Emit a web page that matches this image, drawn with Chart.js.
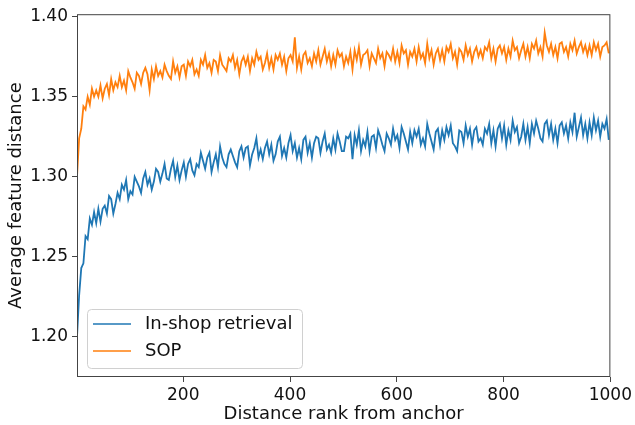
<!DOCTYPE html>
<html>
<head>
<meta charset="utf-8">
<script src="https://cdn.jsdelivr.net/npm/chart.js@4/dist/chart.umd.min.js"></script>
<style>
  html, body { margin: 0; padding: 0; background: #fff; }
  #wrap { width: 635px; height: 425px; }
</style>
</head>
<body>
<div id="wrap"><canvas id="lineChart" width="635" height="425"></canvas></div>
<script>
// ranks sampled every 4 from 1 to 997
var ranks = [];
for (var r = 1; r <= 1000; r += 4) ranks.push(r);

var xTicks = [200, 400, 600, 800, 1000];
var yTicks = [1.20, 1.25, 1.30, 1.35, 1.40];

var inshop = [
  1.200,1.226,1.243,1.246,1.263,1.261,1.274,1.270,1.278,1.271,
  1.280,1.272,1.280,1.282,1.277,1.288,1.286,1.277,1.283,1.290,
  1.286,1.295,1.292,1.298,1.286,1.291,1.289,1.300,1.297,1.294,
  1.290,1.299,1.303,1.295,1.299,1.292,1.297,1.305,1.303,1.297,
  1.302,1.308,1.299,1.298,1.305,1.310,1.300,1.307,1.298,1.304,
  1.309,1.300,1.308,1.311,1.304,1.301,1.308,1.306,1.315,1.310,
  1.305,1.312,1.315,1.303,1.309,1.314,1.306,1.319,1.312,1.308,
  1.306,1.314,1.317,1.313,1.309,1.306,1.316,1.319,1.312,1.318,
  1.319,1.307,1.314,1.318,1.324,1.312,1.317,1.311,1.318,1.322,
  1.314,1.320,1.310,1.314,1.322,1.325,1.313,1.318,1.312,1.321,
  1.326,1.316,1.321,1.312,1.318,1.311,1.323,1.325,1.315,1.321,
  1.312,1.321,1.325,1.324,1.315,1.322,1.327,1.317,1.320,1.315,
  1.324,1.317,1.327,1.322,1.316,1.316,1.325,1.324,1.327,1.311,
  1.326,1.320,1.329,1.316,1.323,1.319,1.328,1.316,1.325,1.326,
  1.318,1.329,1.325,1.320,1.316,1.327,1.324,1.320,1.330,1.323,
  1.326,1.318,1.331,1.327,1.322,1.317,1.328,1.321,1.329,1.325,
  1.330,1.320,1.324,1.319,1.333,1.327,1.322,1.317,1.328,1.330,
  1.320,1.329,1.323,1.331,1.326,1.332,1.321,1.319,1.316,1.329,
  1.328,1.321,1.332,1.325,1.330,1.320,1.329,1.331,1.322,1.324,
  1.320,1.330,1.327,1.333,1.321,1.329,1.319,1.330,1.333,1.324,
  1.332,1.320,1.329,1.323,1.335,1.328,1.331,1.321,1.325,1.333,
  1.323,1.331,1.321,1.333,1.327,1.335,1.330,1.324,1.322,1.333,
  1.335,1.326,1.333,1.323,1.330,1.321,1.332,1.334,1.327,1.332,
  1.324,1.334,1.328,1.340,1.325,1.331,1.337,1.326,1.333,1.324,
  1.334,1.326,1.337,1.329,1.335,1.325,1.333,1.330,1.336,1.323
];

var sop = [
  1.300,1.324,1.330,1.344,1.342,1.350,1.345,1.355,1.350,1.354,
  1.350,1.357,1.349,1.355,1.358,1.351,1.361,1.354,1.359,1.356,
  1.363,1.356,1.360,1.354,1.366,1.362,1.359,1.355,1.365,1.363,
  1.358,1.365,1.368,1.364,1.354,1.367,1.361,1.369,1.363,1.366,
  1.362,1.370,1.366,1.363,1.361,1.372,1.365,1.369,1.362,1.369,
  1.370,1.363,1.372,1.369,1.373,1.364,1.367,1.363,1.373,1.370,
  1.376,1.368,1.371,1.365,1.373,1.372,1.366,1.376,1.370,1.368,
  1.366,1.374,1.372,1.376,1.368,1.373,1.364,1.372,1.375,1.370,
  1.375,1.366,1.374,1.370,1.378,1.373,1.375,1.367,1.371,1.377,
  1.368,1.374,1.367,1.376,1.373,1.377,1.370,1.375,1.366,1.374,
  1.376,1.372,1.387,1.368,1.375,1.367,1.376,1.378,1.371,1.374,
  1.369,1.377,1.372,1.379,1.370,1.375,1.380,1.372,1.377,1.369,
  1.376,1.370,1.379,1.375,1.377,1.369,1.375,1.371,1.378,1.367,
  1.379,1.373,1.381,1.370,1.376,1.377,1.379,1.369,1.377,1.374,
  1.371,1.380,1.374,1.377,1.369,1.378,1.376,1.373,1.380,1.372,
  1.378,1.371,1.382,1.377,1.379,1.370,1.378,1.375,1.380,1.372,
  1.381,1.374,1.377,1.371,1.383,1.374,1.379,1.370,1.377,1.380,
  1.373,1.379,1.372,1.381,1.378,1.383,1.374,1.378,1.370,1.380,
  1.378,1.373,1.382,1.376,1.380,1.372,1.378,1.381,1.375,1.379,
  1.374,1.381,1.379,1.384,1.374,1.380,1.372,1.380,1.382,1.377,
  1.381,1.373,1.380,1.375,1.385,1.379,1.381,1.374,1.379,1.383,
  1.375,1.381,1.374,1.383,1.380,1.385,1.377,1.381,1.375,1.390,
  1.382,1.378,1.383,1.376,1.381,1.374,1.383,1.384,1.378,1.381,
  1.375,1.383,1.379,1.385,1.377,1.381,1.384,1.378,1.382,1.376,
  1.382,1.376,1.384,1.379,1.383,1.375,1.381,1.382,1.384,1.377
];

var seriesNames = ["In-shop retrieval", "SOP"];
var seriesColors = ["#1f77b4", "#ff7f0e"];

var FONT = "'DejaVu Sans', sans-serif";

function toPoints(ys) {
    return ys.map(function (y, i) { return { x: ranks[i], y: y }; });
}

// frame round the plot + legend box in the lower left
var framePlugin = {
    id: 'frame',
    afterDraw: function (chart) {
        var ctx = chart.ctx, a = chart.chartArea;
        ctx.save();
        ctx.strokeStyle = '#444';
        ctx.lineWidth = 1;
        ctx.strokeRect(a.left + 0.5, a.top + 0.5, a.right - a.left - 1, a.bottom - a.top - 1);

        // legend
        var bx = a.left + 10, by = 309, bw = 215, bh = 59;
        ctx.fillStyle = 'rgba(255,255,255,0.8)';
        ctx.strokeStyle = '#d0d0d0';
        ctx.beginPath();
        ctx.roundRect(bx + 0.5, by + 0.5, bw, bh, 4);
        ctx.fill();
        ctx.stroke();
        ctx.font = '18px ' + FONT;
        ctx.textBaseline = 'middle';
        chart.data.datasets.forEach(function (ds, i) {
            var yy = by + 15 + i * 27;
            ctx.strokeStyle = ds.borderColor;
            ctx.lineWidth = 1.5;
            ctx.beginPath();
            ctx.moveTo(bx + 6, yy);
            ctx.lineTo(bx + 44, yy);
            ctx.stroke();
            ctx.fillStyle = '#111';
            ctx.fillText(ds.label, bx + 58, yy);
        });
        ctx.restore();
    }
};

var ctx = document.getElementById("lineChart");
var myChart = new Chart(ctx, {
    type: 'line',
    data: {
        datasets: [
            { label: seriesNames[0], data: toPoints(inshop), borderColor: seriesColors[0], borderWidth: 1.8, pointRadius: 0, tension: 0, fill: false },
            { label: seriesNames[1], data: toPoints(sop), borderColor: seriesColors[1], borderWidth: 1.8, pointRadius: 0, tension: 0, fill: false }
        ]
    },
    options: {
        responsive: false,
        animation: false,
        layout: { padding: { left: 0, right: 23, top: 6, bottom: 0 } },
        plugins: {
            legend: { display: false },
            tooltip: { enabled: false }
        },
        scales: {
            x: {
                type: 'linear',
                min: 1,
                max: 1000,
                afterBuildTicks: function (scale) {
                    scale.ticks = xTicks.map(function (v) { return { value: v }; });
                },
                afterFit: function (scale) { scale.height = 48; },
                grid: { drawOnChartArea: false, drawTicks: true, tickLength: 5, color: '#444' },
                border: { display: false },
                ticks: {
                    color: '#111', font: { family: FONT, size: 17 }, padding: 3, maxRotation: 0,
                    callback: function (v) { return String(v); }
                },
                title: { display: true, text: 'Distance rank from anchor', color: '#111', font: { family: FONT, size: 18 }, padding: { top: 0, bottom: 0 } }
            },
            y: {
                min: 1.175,
                max: 1.4015,
                afterBuildTicks: function (scale) {
                    scale.ticks = yTicks.map(function (v) { return { value: v }; });
                },
                afterFit: function (scale) { scale.width = 77; },
                grid: { drawOnChartArea: false, drawTicks: true, tickLength: 5, color: '#444' },
                border: { display: false },
                ticks: {
                    color: '#111', font: { family: FONT, size: 17 }, padding: 4,
                    callback: function (v) { return Number(v).toFixed(2); }
                },
                title: { display: true, text: 'Average feature distance', color: '#111', font: { family: FONT, size: 18 }, padding: { top: 6, bottom: 0 } }
            }
        }
    },
    plugins: [framePlugin]
});
</script>
</body>
</html>
